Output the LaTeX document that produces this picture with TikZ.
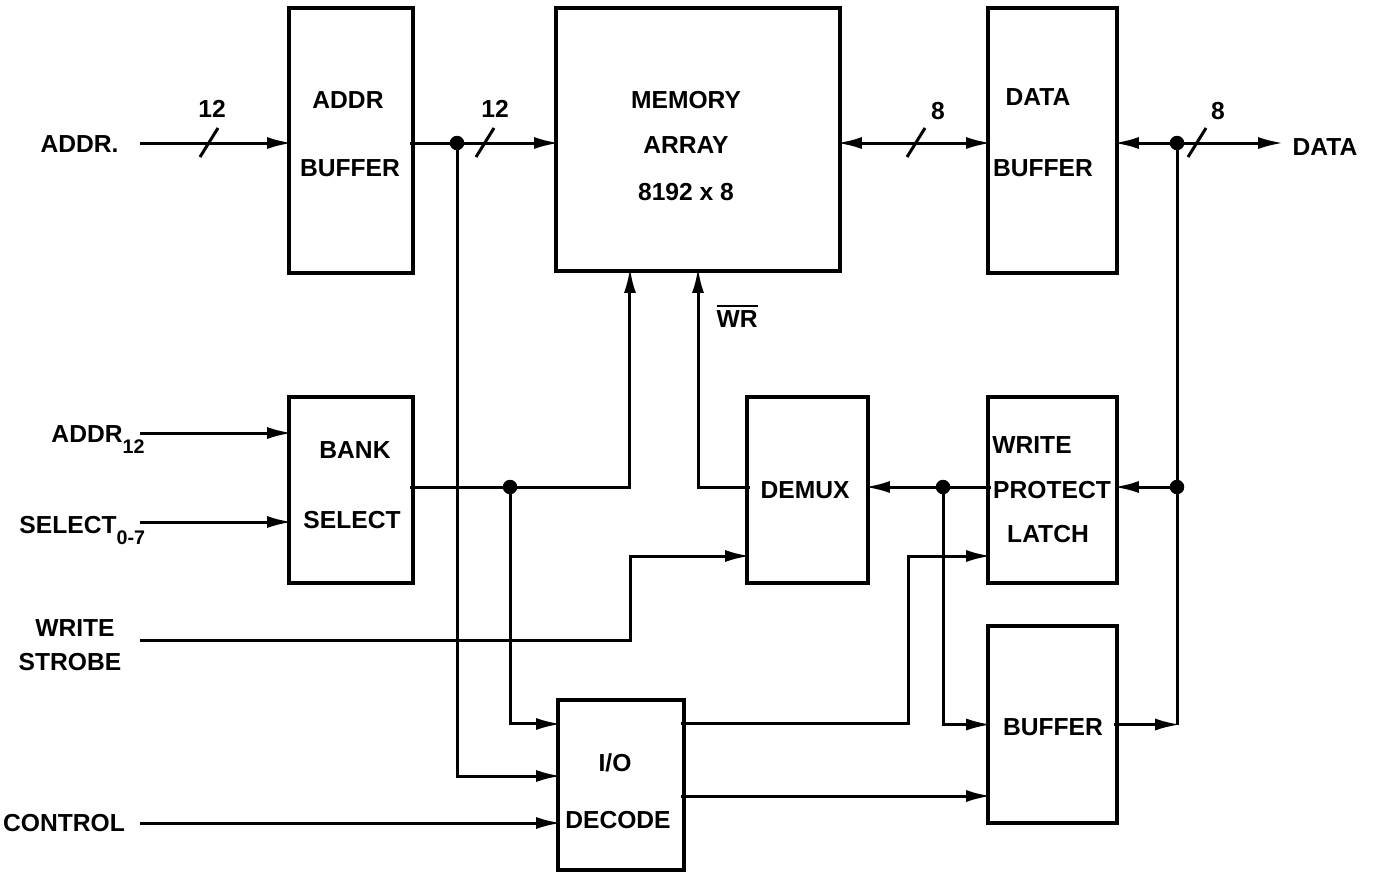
\documentclass[tikz,border=0pt]{standalone}
\usepackage{fontspec}
\setmainfont{Liberation Sans}
\usetikzlibrary{arrows.meta}
\newcommand{\lowsub}[1]{\raisebox{-3.3pt}{\fontsize{5.6}{6}\selectfont #1}}
\begin{document}
\begin{tikzpicture}[x=0.01cm,y=-0.01cm,line width=0.85pt,
  >={Latex[length=2.5mm,width=1.2mm]},
  sig/.style={shorten >=-0.9pt,shorten <=-0.9pt},
  blk/.style={draw,line width=1.1pt,inner sep=0pt,outer sep=0pt},
  txt/.style={font=\fontsize{7}{9}\selectfont\bfseries,inner sep=0pt},
  jdot/.style={circle,fill,inner sep=0pt,minimum size=1.45mm}]
\useasboundingbox (0,0) rectangle (1377,872);
% blocks
\node[blk,minimum width=1.24cm,minimum height=2.65cm] (abuf) at (351,140.5) {};
\node[blk,minimum width=2.84cm,minimum height=2.63cm] (mem) at (698,139.5) {};
\node[blk,minimum width=1.29cm,minimum height=2.65cm] (dbuf) at (1052.5,140.5) {};
\node[blk,minimum width=1.24cm,minimum height=1.86cm] (bank) at (351,490) {};
\node[blk,minimum width=1.21cm,minimum height=1.86cm] (demux) at (807.5,490) {};
\node[blk,minimum width=1.29cm,minimum height=1.86cm] (wpl) at (1052.5,490) {};
\node[blk,minimum width=1.29cm,minimum height=1.97cm] (obuf) at (1052.5,724.5) {};
\node[blk,minimum width=1.26cm,minimum height=1.70cm] (iod) at (621,785) {};
% block texts
\node[txt] (abuf1) at (348,100) {ADDR};
\node[txt] (abuf2) at (350,168) {BUFFER};
\node[txt] (mem1) at (686,100) {MEMORY};
\node[txt] (mem2) at (686,145) {ARRAY};
\node[txt] (mem3) at (686,192) {8192 x 8};
\node[txt] (dbuf1) at (1038,97) {DATA};
\node[txt] (dbuf2) at (1043,168) {BUFFER};
\node[txt] (bank1) at (355,450) {BANK};
\node[txt] (bank2) at (352,520) {SELECT};
\node[txt] (demux1) at (805,490) {DEMUX};
\node[txt] (wpl1) at (1032,445) {WRITE};
\node[txt] (wpl2) at (1052,490) {PROTECT};
\node[txt] (wpl3) at (1048,534) {LATCH};
\node[txt] (obuf1) at (1053,727) {BUFFER};
\node[txt] (iod1) at (615,763) {I/O};
\node[txt] (iod2) at (618,820) {DECODE};
% signal names
\node[txt,anchor=east] (addrl) at (120,144) {ADDR.};
\node[txt,anchor=base west] (a12l) at (50,442) {ADDR\lowsub{12}};
\node[txt,anchor=base west] (sell) at (18,533) {SELECT\lowsub{0-7}};
\node[txt] (wsl1) at (75,628) {WRITE};
\node[txt] (wsl2) at (70,662) {STROBE};
\node[txt] (ctll) at (64,823) {CONTROL};
\node[txt] (datal) at (1325,147) {DATA};
\node[txt] (wrl) at (737,316) {$\overline{\mbox{WR}}$};
% bus widths
\node[txt] (bw1) at (212,109) {12};
\node[txt] (bw2) at (495,109) {12};
\node[txt] (bw3) at (938,111) {8};
\node[txt] (bw4) at (1218,111) {8};
% junctions
\node[jdot] (j1) at (457,143) {};
\node[jdot] (j2) at (1177,143) {};
\node[jdot] (j3) at (510,487) {};
\node[jdot] (j4) at (943,487) {};
\node[jdot] (j5) at (1177,487) {};
% free ends and bends
\coordinate (addrin) at (143,143);
\coordinate (dataout) at (1280,143);
\coordinate (a12in) at (143,433);
\coordinate (selin) at (143,522);
\coordinate (wsin) at (143,640);
\coordinate (ctlin) at (143,823);
\coordinate (wsup) at (630,556);
\coordinate (decup) at (908,556);
% address and data path
\draw[->,sig] (addrin) -- (addrin -| abuf.west);
\draw[->,sig] (abuf.east |- j1) -- (mem.west |- j1);
\draw[<->,sig] (mem.east |- j1) -- (dbuf.west |- j1);
\draw[<->,sig] (dbuf.east |- j2) -- (dataout);
\draw[->,sig] (j1.center) |- ([yshift=0.09cm]iod.west);
% bank select
\draw[->,sig] (a12in) -- (a12in -| bank.west);
\draw[->,sig] (selin) -- (selin -| bank.west);
\draw[->,sig] (bank.east |- j3) -| ([xshift=-0.68cm]mem.south);
\draw[->,sig] (j3.center) |- ([yshift=0.61cm]iod.west);
% write path
\draw[->,sig] (wsin) -| (wsup) -- (wsup -| demux.west);
\draw[->,sig] (demux.west |- j4) -| (mem.south);
\draw[->,sig] (wpl.west |- j4) -- (demux.east |- j4);
\draw[->,sig] (j4.center) |- (obuf.west);
\draw[->,sig] (j5.center) -- (j5 -| wpl.east);
\draw (j2.center) -- (j2 |- obuf.east);
\draw[->,sig] (obuf.east) -- (j2 |- obuf.east);
% decode outputs
\draw[->,sig] ([yshift=0.61cm]iod.east) -| (decup) -- (decup -| wpl.west);
\draw[->,sig] ([yshift=-0.11cm]iod.east) coordinate (dec2) -- (dec2 -| obuf.west);
\draw[->,sig] (ctlin) -- (ctlin -| iod.west);
% bus slashes
\foreach \sx in {209,485,916,1197}
  \draw (\sx-9,157) -- (\sx+9,128);
\end{tikzpicture}
\end{document}
